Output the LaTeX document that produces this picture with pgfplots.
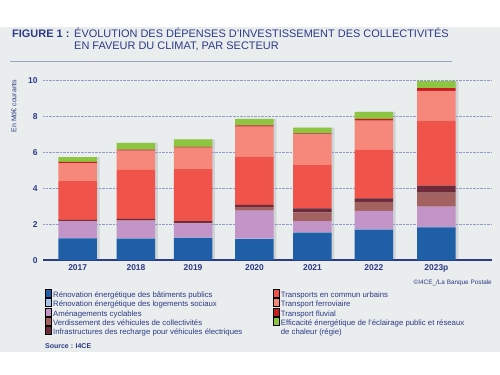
\documentclass[border=0pt]{standalone}
\usepackage{pgfplots}
\usepackage{pgfplotstable}
\pgfplotsset{compat=1.18}
\usepackage{fontspec}
\setmainfont{Liberation Sans}
\definecolor{navy}{HTML}{2D3A86}
\definecolor{bgc}{HTML}{E9EDED}
\definecolor{sepc}{HTML}{9AA4BE}
\definecolor{gridc}{HTML}{8E9BCB}
\definecolor{shad}{HTML}{C9CDCF}
\definecolor{cblue}{HTML}{1F5FA7}
\definecolor{clblue}{HTML}{A3C6EA}
\definecolor{clilac}{HTML}{C394C8}
\definecolor{cverd}{HTML}{A3625F}
\definecolor{cinfra}{HTML}{6E2B3B}
\definecolor{ctc}{HTML}{F0534A}
\definecolor{cferro}{HTML}{F5887B}
\definecolor{cfluv}{HTML}{C81C20}
\definecolor{cgreen}{HTML}{8DC540}

\pgfplotstableread{
x blue lblue lilac verd infra tc ferro fluv green total
0     1.22 0.02 0.93 0.02 0.05 2.17 1.00 0.07 0.26 5.74
0.975 1.20 0.02 0.98 0.03 0.07 2.73 1.08 0.05 0.38 6.54
1.929 1.24 0.02 0.79 0.03 0.10 2.90 1.19 0.05 0.41 6.73
2.957 1.18 0.02 1.56 0.20 0.12 2.69 1.67 0.07 0.36 7.87
3.927 1.53 0.02 0.63 0.49 0.22 2.41 1.71 0.06 0.31 7.38
4.953 1.70 0.03 1.02 0.50 0.20 2.69 1.63 0.10 0.40 8.27
6     1.83 0.03 1.12 0.78 0.39 3.62 1.67 0.14 0.40 9.98
}\datatable

\pgfplotsset{myaxis/.style={
  at={(77.68bp,114.8bp)}, anchor=origin,
  scale only axis, width=449bp, height=179.5bp,
  xmin=-0.58, xmax=6.93, ymin=0, ymax=10,
}}

\begin{document}
\begin{tikzpicture}
\fill[white] (0bp,0bp) rectangle (500bp,375bp);
\fill[bgc] (0bp,23bp) rectangle (500bp,348bp);
\draw[sepc, line width=1bp] (10bp,313.5bp) -- (452bp,313.5bp);
\node[anchor=base west, inner sep=0, text=navy, font=\bfseries\fontsize{11}{12.4}\selectfont] at (12bp,337.5bp) {FIGURE 1 :};
\node[anchor=base west, inner sep=0, text=navy, align=left, font=\fontsize{11}{12.4}\selectfont] at (74bp,337.5bp) {ÉVOLUTION DES DÉPENSES D'INVESTISSEMENT DES COLLECTIVITÉS};
\node[anchor=base west, inner sep=0, text=navy, align=left, font=\fontsize{11}{12.4}\selectfont] at (74bp,325.1bp) {EN FAVEUR DU CLIMAT, PAR SECTEUR};
\node[rotate=90, inner sep=0, text=navy, font=\fontsize{7}{8}\selectfont] at (14bp,269bp) {En Md€ courants};
\node[anchor=east, inner sep=0, text=navy, font=\fontsize{6.4}{7}\selectfont] at (492bp,92bp) {©I4CE\_/La Banque Postale};
\node[anchor=west, inner sep=0, text=navy, font=\bfseries\fontsize{7}{8}\selectfont] at (45bp,29bp) {Source : I4CE};
% shadow layer
\begin{axis}[myaxis, hide axis, ybar, bar width=38.5bp, bar shift=2.6bp]
\addplot[fill=shad, draw=none, fill opacity=0.8] table[x=x, y=total] {\datatable};
\end{axis}
\begin{axis}[
  myaxis,
  ybar stacked, bar width=38.5bp,
  axis x line*=bottom, axis y line*=left,
  x axis line style={draw=navy, line width=1.4bp, -},
  y axis line style={draw=none},
  tick style={draw=none},
  ymajorgrids, grid style={densely dotted, gridc, line width=0.7bp},
  ytick={0,2,4,6,8,10},
  xtick={0,0.975,1.929,2.957,3.927,4.953,6},
  xticklabels={2017,2018,2019,2020,2021,2022,2023p},
  /pgf/number format/assume math mode=true,
  ticklabel style={text=navy, font=\bfseries\fontsize{8.5}{10}\selectfont},
  yticklabel style={xshift=-2bp},
  xticklabel style={yshift=-1bp},
  /pgfplots/ybar legend/.style={legend image code/.code={\fill[##1] (0bp,-3.2bp) rectangle (8bp,4.6bp);}},
  legend columns=5, transpose legend,
  legend cell align=left,
  legend style={at={(0.004,-0.16)}, anchor=north west, draw=none, fill=none,
    text=navy, font=\fontsize{7.8}{8.6}\selectfont, inner sep=0pt, row sep=-1.05bp,
    nodes={inner sep=0.3bp, text height=6bp, text depth=1.8bp},
    /tikz/every odd column/.append style={column sep=1.5bp},
    /tikz/every even column/.append style={column sep=30bp}},
]
\addplot[fill=cblue, draw=none] table[x=x, y=blue] {\datatable};
\addlegendentry{Rénovation énergétique des bâtiments publics}
\addplot[fill=clblue, draw=none] table[x=x, y=lblue] {\datatable};
\addlegendentry{Rénovation énergétique des logements sociaux}
\addplot[fill=clilac, draw=none] table[x=x, y=lilac] {\datatable};
\addlegendentry{Aménagements cyclables}
\addplot[fill=cverd, draw=none] table[x=x, y=verd] {\datatable};
\addlegendentry{Verdissement des véhicules de collectivités}
\addplot[fill=cinfra, draw=none] table[x=x, y=infra] {\datatable};
\addlegendentry{Infrastructures des recharge pour véhicules électriques}
\addplot[fill=ctc, draw=none] table[x=x, y=tc] {\datatable};
\addlegendentry{Transports en commun urbains}
\addplot[fill=cferro, draw=none] table[x=x, y=ferro] {\datatable};
\addlegendentry{Transport ferroviaire}
\addplot[fill=cfluv, draw=none] table[x=x, y=fluv] {\datatable};
\addlegendentry{Transport fluvial}
\addplot[fill=cgreen, draw=none] table[x=x, y=green] {\datatable};
\addlegendentry{Efficacité énergétique de l'éclairage public et réseaux}
\addlegendimage{empty legend}
\addlegendentry{de chaleur (régie)}
\end{axis}
\end{tikzpicture}
\end{document}
